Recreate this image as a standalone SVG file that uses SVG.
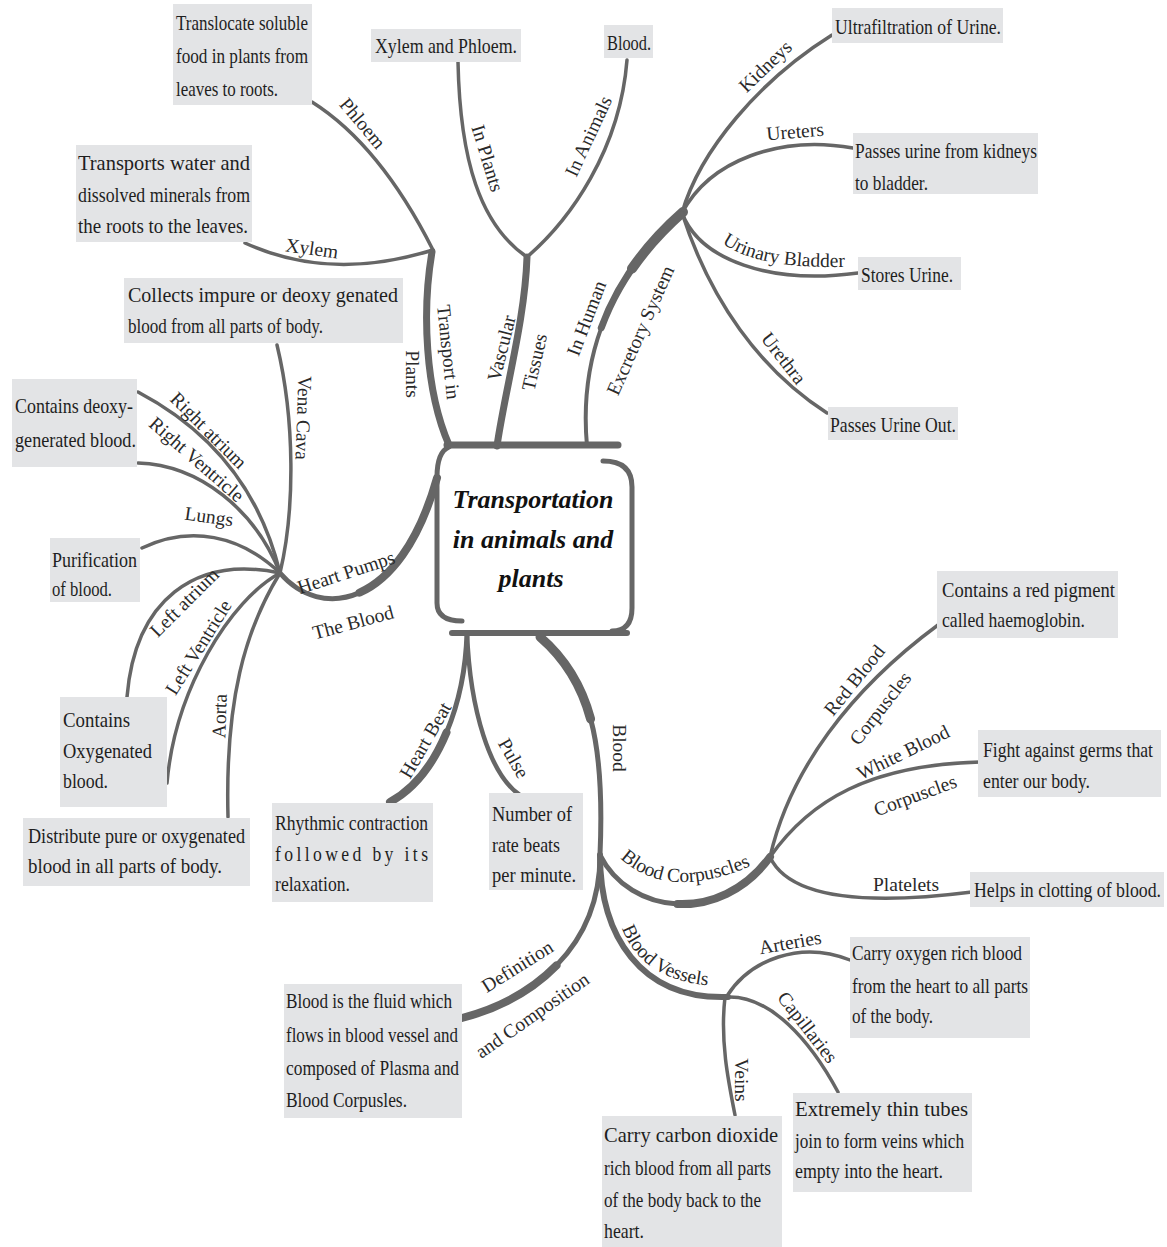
<svg xmlns="http://www.w3.org/2000/svg" width="1167" height="1247" viewBox="0 0 1167 1247">
<style>
.box{fill:#e3e4e6}
.bt{font-family:"Liberation Serif","Times New Roman",serif;font-size:22px;fill:#1e1e1e}
.c{fill:none;stroke:#666;stroke-linecap:round}
.t1{stroke-width:3.5}
.t2{stroke-width:7}
.lbl{font-family:"Liberation Serif","Times New Roman",serif;font-size:19.5px;fill:#2a2a2a;text-anchor:middle}
.lp{font-family:"Liberation Serif","Times New Roman",serif;font-size:19.5px;fill:#2a2a2a}
.title{font-family:"Liberation Serif","Times New Roman",serif;font-style:italic;font-weight:bold;font-size:26px;fill:#111;text-anchor:middle}
.frame{fill:none;stroke:#666;stroke-linecap:round}
</style>
<defs>
<path id="pUB" d="M722,243 Q762,272 862,266"/>
<path id="pBC" d="M620,858 Q672,906 768,858"/>
<path id="pBV" d="M622,928 Q642,982 716,986"/>
</defs>
<rect width="1167" height="1247" fill="#fff"/>

<g id="connectors">
  <path class="c t1" d="M312,102 Q380,145 433,250"/>
  <path class="c t1" d="M245,243 Q330,282 433,250"/>
  <path class="c t2" d="M432,252 C422,310 425,390 449,445"/>
  <path class="c t1" d="M458,62 C460,160 480,225 527,257"/>
  <path class="c t1" d="M527,257 C570,220 620,150 627,60"/>
  <path class="c t2" d="M497,446 C505,390 525,320 527,257"/>
  <path class="c" stroke-width="4" d="M587,446 C580,370 600,285 683,212"/>
  <path class="c" stroke-width="7" d="M601.25,327.9 C615.75,288 641.5,248.5 683,212"/>
  <path class="c" stroke-width="10" d="M632,268.7 C645.4,249.25 662.25,230.25 683,212"/>
  <path class="c t1" d="M682,213 C700,150 760,80 832,35"/>
  <path class="c t1" d="M682,213 C710,160 780,135 853,148"/>
  <path class="c t1" d="M682,213 C700,260 770,285 858,273"/>
  <path class="c t1" d="M682,213 C710,300 760,370 827,413"/>
  <path class="c t1" d="M277,345 C295,420 295,510 280,573"/>
  <path class="c t1" d="M138,392 C210,430 260,490 280,573"/>
  <path class="c t1" d="M138,463 C200,465 255,510 280,573"/>
  <path class="c t1" d="M142,548 C190,525 240,535 280,573"/>
  <path class="c t1" d="M280,573 C195,555 135,600 127,697"/>
  <path class="c t1" d="M280,573 C230,600 175,690 167,783"/>
  <path class="c t1" d="M280,573 C245,630 225,700 228,817"/>
  <path class="c" stroke-width="5" d="M280,573 C320,620 400,610 437,478"/>
  <path class="c" stroke-width="8" d="M359.6,592.6 C389.25,579.5 418.5,544 437,478"/>
  <path class="c" stroke-width="5" d="M467,633 C465,700 440,775 390,802"/>
  <path class="c" stroke-width="8" d="M446.5,732.5 C433.75,763 415,788.5 390,802"/>
  <path class="c" stroke-width="4.5" d="M467,633 C470,710 490,775 520,795"/>
  <path class="c" stroke-width="5" d="M540,637 C590,680 605,740 600,855"/>
  <path class="c" stroke-width="9" d="M540,637 C565,658.5 581.25,684.25 590.6,719"/>
  <path class="c" stroke-width="5" d="M600,855 C630,915 720,925 770,857"/>
  <path class="c" stroke-width="8" d="M677.5,904 C710,905.5 745,891 770,857"/>
  <path class="c t1" d="M770,857 C790,770 850,690 938,625"/>
  <path class="c t1" d="M770,857 C810,800 870,765 980,762"/>
  <path class="c t1" d="M770,857 C790,900 870,905 972,892"/>
  <path class="c" stroke-width="5" d="M600,855 C600,950 530,1000 462,1018"/>
  <path class="c" stroke-width="8" d="M556.5,965.4 C530.5,992 496,1009 462,1018"/>
  <path class="c" stroke-width="6" d="M600,855 C600,935 640,1000 728,997"/>
  <path class="c t1" d="M727,996 C750,960 800,940 850,960"/>
  <path class="c t1" d="M727,997 C770,995 810,1040 838,1092"/>
  <path class="c t1" d="M725,997 C720,1040 728,1080 735,1115"/>

  <text class="lbl" transform="translate(363 123) rotate(50)" y="7">Phloem</text>
  <text class="lbl" transform="translate(312 248) rotate(8)" y="7">Xylem</text>
  <text class="lbl" transform="translate(449 352) rotate(84)" y="7">Transport in</text>
  <text class="lbl" transform="translate(413 374) rotate(90)" y="7">Plants</text>
  <text class="lbl" transform="translate(488 158) rotate(73)" y="7">In Plants</text>
  <text class="lbl" transform="translate(588 136) rotate(-65)" y="7">In Animals</text>
  <text class="lbl" transform="translate(501 348) rotate(-76)" y="7">Vascular</text>
  <text class="lbl" transform="translate(534 362) rotate(-77)" y="7">Tissues</text>
  <text class="lbl" transform="translate(586 318) rotate(-69)" y="7">In Human</text>
  <text class="lbl" transform="translate(640 330) rotate(-66)" y="7">Excretory System</text>
  <text class="lbl" transform="translate(765 66) rotate(-44)" y="7">Kidneys</text>
  <text class="lbl" transform="translate(795 131) rotate(-5)" y="7">Ureters</text>
  <text class="lp"><textPath href="#pUB" startOffset="0">Urinary Bladder</textPath></text>
  <text class="lbl" transform="translate(784 358) rotate(52)" y="7">Urethra</text>
  <text class="lbl" transform="translate(304 418) rotate(92)" y="7">Vena Cava</text>
  <text class="lbl" transform="translate(209 430) rotate(45)" y="7">Right atrium</text>
  <text class="lbl" transform="translate(197 459) rotate(41)" y="7">Right Ventricle</text>
  <text class="lbl" transform="translate(209 516) rotate(8)" y="7">Lungs</text>
  <text class="lbl" transform="translate(184 602) rotate(-45)" y="7">Left atrium</text>
  <text class="lbl" transform="translate(198 647) rotate(-58)" y="7">Left Ventricle</text>
  <text class="lbl" transform="translate(219 716) rotate(-88)" y="7">Aorta</text>
  <text class="lbl" transform="translate(346 572) rotate(-18)" y="7">Heart Pumps</text>
  <text class="lbl" transform="translate(353 622) rotate(-15)" y="7">The Blood</text>
  <text class="lbl" transform="translate(425 740) rotate(-60)" y="7">Heart Beat</text>
  <text class="lbl" transform="translate(514 758) rotate(60)" y="7">Pulse</text>
  <text class="lbl" transform="translate(620 748) rotate(90)" y="7">Blood</text>
  <text class="lp"><textPath href="#pBC" startOffset="0">Blood Corpuscles</textPath></text>
  <text class="lbl" transform="translate(854 680) rotate(-51)" y="7">Red Blood</text>
  <text class="lbl" transform="translate(880 708) rotate(-52)" y="7">Corpuscles</text>
  <text class="lbl" transform="translate(903 752) rotate(-26)" y="7">White Blood</text>
  <text class="lbl" transform="translate(915 795) rotate(-20)" y="7">Corpuscles</text>
  <text class="lbl" transform="translate(906 884)" y="7">Platelets</text>
  <text class="lbl" transform="translate(517 966) rotate(-32)" y="7">Definition</text>
  <text class="lbl" transform="translate(532 1015) rotate(-35)" y="7">and Composition</text>
  <text class="lp"><textPath href="#pBV" startOffset="0">Blood Vessels</textPath></text>
  <text class="lbl" transform="translate(790 942) rotate(-10)" y="7">Arteries</text>
  <text class="lbl" transform="translate(808 1027) rotate(52)" y="7">Capillaries</text>
  <text class="lbl" transform="translate(742 1080) rotate(90)" y="7">Veins</text>
</g>

<g id="center">
  <path class="frame" stroke-width="5" d="M449,447 Q437,452 437,477 L437,603 Q437,621 462,621"/>
  <path class="frame" stroke-width="5" d="M603,461 Q632,461 632,487 L632,608 Q632,631 612,631"/>
  <path class="frame" stroke-width="7" d="M447,445 L618,445"/>
  <path class="frame" stroke-width="6" d="M452,633 L627,633"/>
  <text class="title" x="533" y="508">Transportation</text>
  <text class="title" x="533" y="548">in animals and</text>
  <text class="title" x="531" y="587">plants</text>
</g>

<g id="n-phloem"><rect class="box" x="173" y="4" width="139" height="101"/>
<g transform="translate(176 0) scale(0.8 1)">
<text class="bt" x="0" y="30" textLength="165" lengthAdjust="spacingAndGlyphs">Translocate soluble</text>
<text class="bt" x="0" y="63" textLength="165" lengthAdjust="spacingAndGlyphs">food in plants from</text>
<text class="bt" x="0" y="96" textLength="127.5" lengthAdjust="spacingAndGlyphs">leaves to roots.</text></g></g>

<g id="n-xylem"><rect class="box" x="76" y="145" width="176" height="97"/>
<g transform="translate(78 0) scale(0.8 1)">
<text class="bt" x="0" y="170" textLength="215" lengthAdjust="spacingAndGlyphs">Transports water and</text>
<text class="bt" x="0" y="202" textLength="215" lengthAdjust="spacingAndGlyphs">dissolved minerals from</text>
<text class="bt" x="0" y="233" textLength="212.5" lengthAdjust="spacingAndGlyphs">the roots to the leaves.</text></g></g>

<g id="n-inplants"><rect class="box" x="371" y="29" width="150" height="33"/>
<g transform="translate(375 0) scale(0.8 1)">
<text class="bt" x="0" y="53" textLength="177.5" lengthAdjust="spacingAndGlyphs">Xylem and Phloem.</text></g></g>

<g id="n-inanimals"><rect class="box" x="604" y="25" width="49" height="33"/>
<g transform="translate(607 0) scale(0.8 1)">
<text class="bt" x="0" y="50" textLength="55" lengthAdjust="spacingAndGlyphs">Blood.</text></g></g>

<g id="n-kidneys"><rect class="box" x="832" y="8" width="171" height="35"/>
<g transform="translate(835 0) scale(0.8 1)">
<text class="bt" x="0" y="34" textLength="207.5" lengthAdjust="spacingAndGlyphs">Ultrafiltration of Urine.</text></g></g>

<g id="n-ureters"><rect class="box" x="853" y="133" width="185" height="61"/>
<g transform="translate(855 0) scale(0.8 1)">
<text class="bt" x="0" y="158" textLength="227.5" lengthAdjust="spacingAndGlyphs">Passes urine from kidneys</text>
<text class="bt" x="0" y="190" textLength="91.25" lengthAdjust="spacingAndGlyphs">to bladder.</text></g></g>

<g id="n-bladder"><rect class="box" x="858" y="257" width="103" height="33"/>
<g transform="translate(861 0) scale(0.8 1)">
<text class="bt" x="0" y="282" textLength="115" lengthAdjust="spacingAndGlyphs">Stores Urine.</text></g></g>

<g id="n-urethra"><rect class="box" x="828" y="407" width="130" height="33"/>
<g transform="translate(830 0) scale(0.8 1)">
<text class="bt" x="0" y="432" textLength="157.5" lengthAdjust="spacingAndGlyphs">Passes Urine Out.</text></g></g>

<g id="n-venacava"><rect class="box" x="124" y="278" width="279" height="65"/>
<g transform="translate(128 0) scale(0.8 1)">
<text class="bt" x="0" y="302" textLength="337.5" lengthAdjust="spacingAndGlyphs">Collects impure or deoxy genated</text>
<text class="bt" x="0" y="333" textLength="243.75" lengthAdjust="spacingAndGlyphs">blood from all parts of body.</text></g></g>

<g id="n-right"><rect class="box" x="12" y="379" width="125" height="88"/>
<g transform="translate(15 0) scale(0.8 1)">
<text class="bt" x="0" y="413" textLength="147.5" lengthAdjust="spacingAndGlyphs">Contains deoxy-</text>
<text class="bt" x="0" y="447" textLength="151.25" lengthAdjust="spacingAndGlyphs">generated blood.</text></g></g>

<g id="n-lungs"><rect class="box" x="50" y="538" width="90" height="64"/>
<g transform="translate(52 0) scale(0.8 1)">
<text class="bt" x="0" y="567" textLength="106.25" lengthAdjust="spacingAndGlyphs">Purification</text>
<text class="bt" x="0" y="596" textLength="75" lengthAdjust="spacingAndGlyphs">of blood.</text></g></g>

<g id="n-left"><rect class="box" x="60" y="697" width="107" height="110"/>
<g transform="translate(63 0) scale(0.8 1)">
<text class="bt" x="0" y="727" textLength="83.75" lengthAdjust="spacingAndGlyphs">Contains</text>
<text class="bt" x="0" y="758" textLength="111.25" lengthAdjust="spacingAndGlyphs">Oxygenated</text>
<text class="bt" x="0" y="788" textLength="56.25" lengthAdjust="spacingAndGlyphs">blood.</text></g></g>

<g id="n-aorta"><rect class="box" x="23" y="818" width="227" height="68"/>
<g transform="translate(28 0) scale(0.8 1)">
<text class="bt" x="0" y="843" textLength="271.25" lengthAdjust="spacingAndGlyphs">Distribute pure or oxygenated</text>
<text class="bt" x="0" y="873" textLength="242.5" lengthAdjust="spacingAndGlyphs">blood in all parts of body.</text></g></g>

<g id="n-heartbeat"><rect class="box" x="272" y="803" width="161" height="99"/>
<g transform="translate(275 0) scale(0.8 1)">
<text class="bt" x="0" y="830" textLength="191.25" lengthAdjust="spacingAndGlyphs">Rhythmic contraction</text>
<text class="bt" x="0" y="861" textLength="191.25" lengthAdjust="spacing">followed by its</text>
<text class="bt" x="0" y="891" textLength="93.75" lengthAdjust="spacingAndGlyphs">relaxation.</text></g></g>

<g id="n-pulse"><rect class="box" x="489" y="793" width="94" height="97"/>
<g transform="translate(492 0) scale(0.8 1)">
<text class="bt" x="0" y="821" textLength="100" lengthAdjust="spacingAndGlyphs">Number of</text>
<text class="bt" x="0" y="852" textLength="85" lengthAdjust="spacingAndGlyphs">rate beats</text>
<text class="bt" x="0" y="882" textLength="105" lengthAdjust="spacingAndGlyphs">per minute.</text></g></g>

<g id="n-rbc"><rect class="box" x="937" y="571" width="181" height="67"/>
<g transform="translate(942 0) scale(0.8 1)">
<text class="bt" x="0" y="597" textLength="216.25" lengthAdjust="spacingAndGlyphs">Contains a red pigment</text>
<text class="bt" x="0" y="627" textLength="178.75" lengthAdjust="spacingAndGlyphs">called haemoglobin.</text></g></g>

<g id="n-wbc"><rect class="box" x="978" y="730" width="183" height="67"/>
<g transform="translate(983 0) scale(0.8 1)">
<text class="bt" x="0" y="757" textLength="212.5" lengthAdjust="spacingAndGlyphs">Fight against germs that</text>
<text class="bt" x="0" y="788" textLength="133.75" lengthAdjust="spacingAndGlyphs">enter our body.</text></g></g>

<g id="n-platelets"><rect class="box" x="970" y="872" width="194" height="35"/>
<g transform="translate(974 0) scale(0.8 1)">
<text class="bt" x="0" y="897" textLength="233.75" lengthAdjust="spacingAndGlyphs">Helps in clotting of blood.</text></g></g>

<g id="n-arteries"><rect class="box" x="850" y="937" width="180" height="101"/>
<g transform="translate(852 0) scale(0.8 1)">
<text class="bt" x="0" y="960" textLength="212.5" lengthAdjust="spacingAndGlyphs">Carry oxygen rich blood</text>
<text class="bt" x="0" y="993" textLength="220" lengthAdjust="spacingAndGlyphs">from the heart to all parts</text>
<text class="bt" x="0" y="1023" textLength="101.25" lengthAdjust="spacingAndGlyphs">of the body.</text></g></g>

<g id="n-capillaries"><rect class="box" x="793" y="1093" width="179" height="99"/>
<g transform="translate(795 0) scale(0.8 1)">
<text class="bt" x="0" y="1116" textLength="216.25" lengthAdjust="spacingAndGlyphs">Extremely thin tubes</text>
<text class="bt" x="0" y="1148" textLength="211.25" lengthAdjust="spacingAndGlyphs">join to form veins which</text>
<text class="bt" x="0" y="1178" textLength="185" lengthAdjust="spacingAndGlyphs">empty into the heart.</text></g></g>

<g id="n-veins"><rect class="box" x="602" y="1116" width="180" height="131"/>
<g transform="translate(604 0) scale(0.8 1)">
<text class="bt" x="0" y="1142" textLength="217.5" lengthAdjust="spacingAndGlyphs">Carry carbon dioxide</text>
<text class="bt" x="0" y="1175" textLength="208.75" lengthAdjust="spacingAndGlyphs">rich blood from all parts</text>
<text class="bt" x="0" y="1207" textLength="196.25" lengthAdjust="spacingAndGlyphs">of the body back to the</text>
<text class="bt" x="0" y="1238" textLength="50" lengthAdjust="spacingAndGlyphs">heart.</text></g></g>

<g id="n-definition"><rect class="box" x="284" y="984" width="178" height="134"/>
<g transform="translate(286 0) scale(0.8 1)">
<text class="bt" x="0" y="1008" textLength="207.5" lengthAdjust="spacingAndGlyphs">Blood is the fluid which</text>
<text class="bt" x="0" y="1042" textLength="215" lengthAdjust="spacingAndGlyphs">flows in blood vessel and</text>
<text class="bt" x="0" y="1075" textLength="216.25" lengthAdjust="spacingAndGlyphs">composed of Plasma and</text>
<text class="bt" x="0" y="1107" textLength="151.25" lengthAdjust="spacingAndGlyphs">Blood Corpusles.</text></g></g>
</svg>
